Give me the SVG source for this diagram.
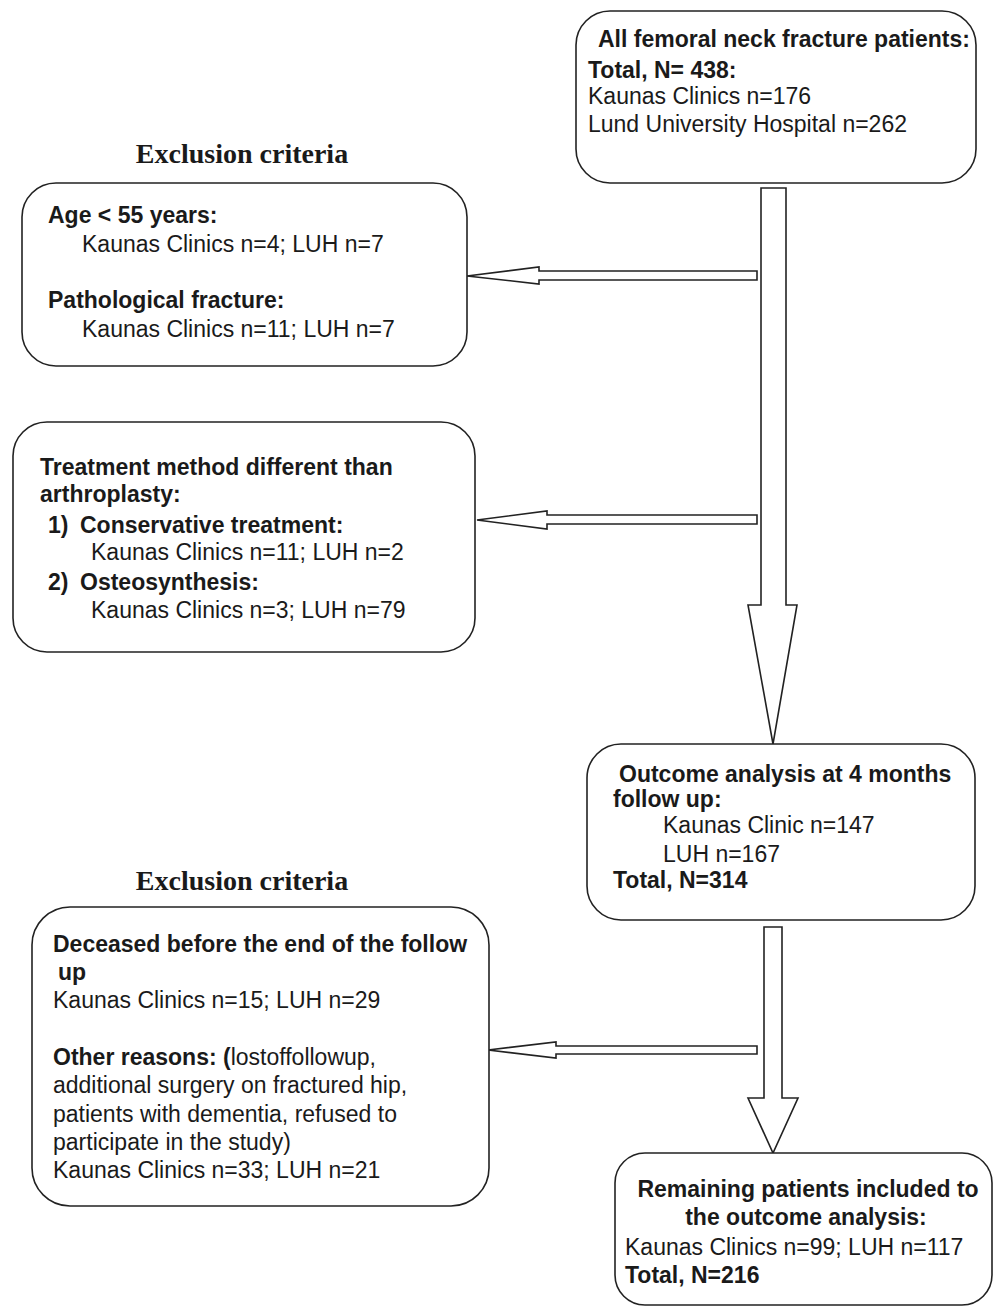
<svg xmlns="http://www.w3.org/2000/svg" width="995" height="1311" viewBox="0 0 995 1311">
<style>
.box{fill:#fff;stroke:#222;stroke-width:1.6}
.arr{fill:#fff;stroke:#222;stroke-width:1.6;stroke-linejoin:miter}
text{font-family:"Liberation Sans",Arial,sans-serif;font-size:23px;fill:#1a1a1a}
.b{font-weight:bold}
.title{font-family:"Liberation Serif","Times New Roman",serif;font-size:28px;font-weight:bold}
</style>
<rect width="995" height="1311" fill="#fff"/>
<g id="connectors">
<polygon class="arr" points="761,188 786,188 786,605 797,605 773,744 748,605 761,605"/>
<polygon class="arr" points="764,927 782,927 782,1098 798,1098 773,1153 748,1098 764,1098"/>
<polygon class="arr" points="757,271 757,280 539,280 539,284 467,276 539,267 539,271"/>
<polygon class="arr" points="757,515 757,524 547,524 547,529 477,520 547,511 547,515"/>
<polygon class="arr" points="757,1046 757,1054 556,1054 556,1058 488,1050 556,1042 556,1046"/>
</g>
<g id="title1"><text class="title" x="242" y="163" text-anchor="middle">Exclusion criteria</text></g>
<g id="title2"><text class="title" x="242" y="890" text-anchor="middle">Exclusion criteria</text></g>
<g id="all-patients">
<rect class="box" x="576" y="11" width="400" height="172" rx="34"/>
<text class="b" x="598" y="47">All femoral neck fracture patients:</text>
<text class="b" x="588" y="78">Total, N= 438:</text>
<text x="588" y="104">Kaunas Clinics n=176</text>
<text x="588" y="132">Lund University Hospital n=262</text>
</g>
<g id="age">
<rect class="box" x="22" y="183" width="445" height="183" rx="34"/>
<text class="b" x="48" y="223">Age &lt; 55 years:</text>
<text x="82" y="252">Kaunas Clinics n=4; LUH n=7</text>
<text class="b" x="48" y="308">Pathological fracture:</text>
<text x="82" y="337">Kaunas Clinics n=11; LUH n=7</text>
</g>
<g id="treatment">
<rect class="box" x="13" y="422" width="462" height="230" rx="34"/>
<text class="b" x="40" y="475">Treatment method different than</text>
<text class="b" x="40" y="502">arthroplasty:</text>
<text class="b" x="48" y="533">1)</text>
<text class="b" x="80" y="533">Conservative treatment:</text>
<text x="91" y="560">Kaunas Clinics n=11; LUH n=2</text>
<text class="b" x="48" y="590">2)</text>
<text class="b" x="80" y="590">Osteosynthesis:</text>
<text x="91" y="618">Kaunas Clinics n=3; LUH n=79</text>
</g>
<g id="outcome">
<rect class="box" x="587" y="744" width="388" height="176" rx="34"/>
<text class="b" x="619" y="782">Outcome analysis at 4 months</text>
<text class="b" x="613" y="807">follow up:</text>
<text x="663" y="833">Kaunas Clinic n=147</text>
<text x="663" y="862">LUH n=167</text>
<text class="b" x="613" y="888">Total, N=314</text>
</g>
<g id="deceased">
<rect class="box" x="32" y="907" width="457" height="299" rx="38"/>
<text class="b" x="53" y="952">Deceased before the end of the follow</text>
<text class="b" x="58" y="980">up</text>
<text x="53" y="1008">Kaunas Clinics n=15; LUH n=29</text>
<text x="53" y="1065"><tspan class="b">Other reasons: (</tspan>lostoffollowup,</text>
<text x="53" y="1093">additional surgery on fractured hip,</text>
<text x="53" y="1122">patients with dementia, refused to</text>
<text x="53" y="1150">participate in the study)</text>
<text x="53" y="1178">Kaunas Clinics n=33; LUH n=21</text>
</g>
<g id="remaining">
<rect class="box" x="615" y="1153" width="377" height="152" rx="30"/>
<text class="b" x="808" y="1197" text-anchor="middle">Remaining patients included to</text>
<text class="b" x="806" y="1225" text-anchor="middle">the outcome analysis:</text>
<text x="625" y="1255">Kaunas Clinics n=99; LUH n=117</text>
<text class="b" x="625" y="1283">Total, N=216</text>
</g>
</svg>
